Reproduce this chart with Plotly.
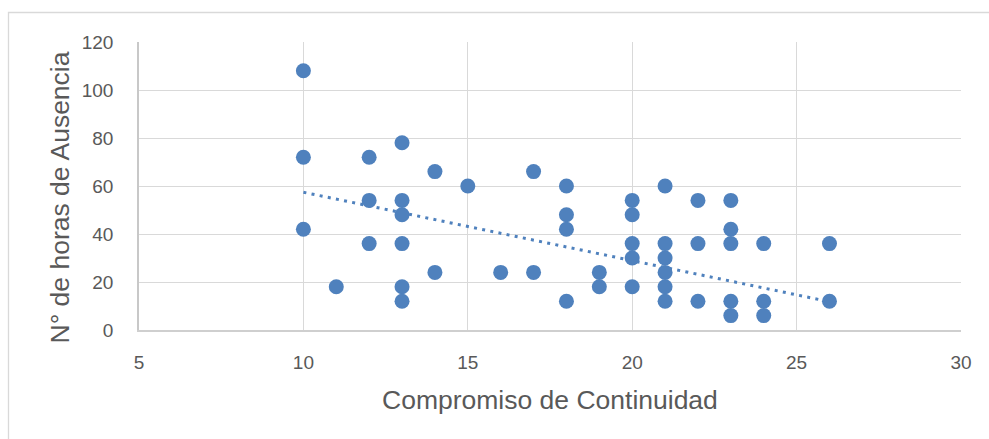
import plotly.graph_objects as go

# Data
compromiso = [10, 10, 10,
              11,
              12, 12, 12,
              13, 13, 13, 13, 13, 13,
              14, 14,
              15,
              16,
              17, 17,
              18, 18, 18, 18,
              19, 19,
              20, 20, 20, 20, 20,
              21, 21, 21, 21, 21, 21,
              22, 22, 22,
              23, 23, 23, 23, 23,
              24, 24, 24,
              26, 26]
horas = [108, 72, 42,
         18,
         72, 54, 36,
         78, 54, 48, 36, 18, 12,
         66, 24,
         60,
         24,
         66, 24,
         60, 48, 42, 12,
         24, 18,
         54, 48, 36, 30, 18,
         60, 36, 30, 24, 18, 12,
         54, 36, 12,
         54, 42, 36, 12, 6,
         36, 12, 6,
         36, 12]

# Linear trendline (as drawn in the reference)
trend_x = [10, 26]
trend_y = [57.4, 11.8]

x_ticks = [5, 10, 15, 20, 25, 30]
y_ticks = [0, 20, 40, 60, 80, 100, 120]

BLUE = "#4F81BD"
GRID = "#D9D9D9"
TXT = "#595959"
FONT = "Liberation Sans"

fig = go.Figure()
fig.add_trace(go.Scatter(
    x=trend_x, y=trend_y, mode="lines",
    line=dict(color=BLUE, width=3, dash="3px,5.3px"),
    hoverinfo="skip", showlegend=False,
))
fig.add_trace(go.Scatter(
    x=compromiso, y=horas, mode="markers",
    marker=dict(color=BLUE, size=15, line=dict(width=0)),
    showlegend=False,
))

W, H = 989, 439
L, R, T, B = 139, 28, 42, 109
pw, ph = W - L - R, H - T - B

def px_x(p):
    return (p - L) / pw

def px_y(p):
    return (H - B - p) / ph

fig.update_layout(
    width=W, height=H,
    margin=dict(l=L, r=R, t=T, b=B, pad=0),
    paper_bgcolor="white", plot_bgcolor="white",
    font=dict(family=FONT, color=TXT, size=19),
    xaxis=dict(
        range=[5, 30], tickvals=x_ticks, ticktext=[str(v) for v in x_ticks],
        showgrid=True, gridcolor=GRID, gridwidth=1.3,
        zeroline=False, showline=True, linecolor="#CFCFCF", linewidth=1.5,
        ticks="", ticklabelstandoff=14, tickfont=dict(size=19, color=TXT),
        fixedrange=True,
    ),
    yaxis=dict(
        range=[0, 120], tickvals=y_ticks, ticktext=[str(v) for v in y_ticks],
        showgrid=True, gridcolor=GRID, gridwidth=1.3,
        zeroline=False, showline=True, linecolor="#C8C8C8", linewidth=1.5,
        ticks="", ticklabelstandoff=20, tickfont=dict(size=19, color=TXT),
        fixedrange=True,
    ),
    shapes=[dict(
        type="rect", xref="paper", yref="paper",
        x0=px_x(8.5), x1=px_x(1000), y0=px_y(460), y1=px_y(12.5),
        line=dict(color=GRID, width=1.3), fillcolor="rgba(0,0,0,0)", layer="below",
    )],
    annotations=[
        dict(text="Compromiso de Continuidad", xref="paper", yref="paper",
             x=px_x(550), y=px_y(400), xanchor="center", yanchor="middle",
             showarrow=False, font=dict(size=26.5, color=TXT, family=FONT)),
        dict(text="N° de horas de Ausencia", xref="paper", yref="paper",
             x=px_x(59), y=px_y(197.5), xanchor="center", yanchor="middle",
             textangle=-90, showarrow=False,
             font=dict(size=26.5, color=TXT, family=FONT)),
    ],
)

fig.write_html("out.html", config={"displayModeBar": False})
